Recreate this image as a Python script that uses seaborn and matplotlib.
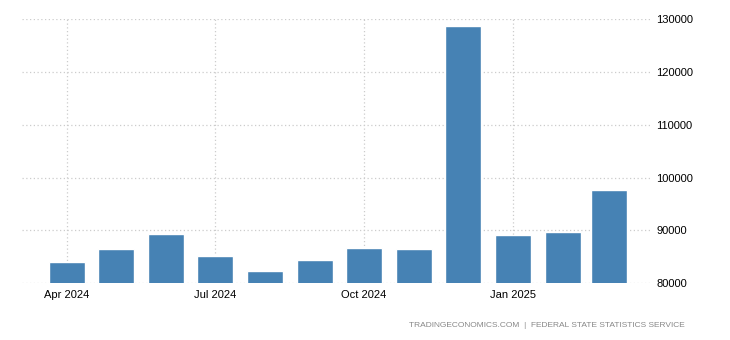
import matplotlib
matplotlib.use("Agg")
import matplotlib.pyplot as plt
import matplotlib.dates as mdates
import seaborn as sns
import pandas as pd
import numpy as np

months = ["2024-04-01", "2024-05-01", "2024-06-01", "2024-07-01", "2024-08-01", "2024-09-01",
          "2024-10-01", "2024-11-01", "2024-12-01", "2025-01-01", "2025-02-01", "2025-03-01"]
values = [84090, 86500, 89340, 85170, 82390, 84410,
          86690, 86500, 128730, 89150, 89700, 97670]
tick_dates = ["2024-04-01", "2024-07-01", "2024-10-01", "2025-01-01"]
tick_labels = ["Apr 2024", "Jul 2024", "Oct 2024", "Jan 2025"]
y_ticks = [80000, 90000, 100000, 110000, 120000, 130000]
source = "TRADINGECONOMICS.COM  |  FEDERAL STATE STATISTICS SERVICE"

sns.set_style("white")
plt.rcParams['font.family'] = ['Liberation Sans', 'DejaVu Sans']

xnum = mdates.date2num(pd.to_datetime(months))
df = pd.DataFrame({"x": xnum, "y": values})

fig = plt.figure(figsize=(7.3, 3.4), dpi=100)
ax = fig.add_axes([0.030, 0.1668, 0.863, 0.7765])

sns.barplot(data=df, x="x", y="y", native_scale=True, orient="x", width=0.793,
            color="#4682b4", saturation=1, ax=ax, zorder=3)

t0 = mdates.date2num(pd.Timestamp("2024-04-01"))
t1 = mdates.date2num(pd.Timestamp("2025-01-01"))
ax.set_xlim(t0 - 27.8, t1 + 85.5)
ax.set_ylim(80000, 130000)

ax.set_xticks(mdates.date2num(pd.to_datetime(tick_dates)))
ax.set_xticklabels(tick_labels)
ax.set_yticks(y_ticks)
ax.set_yticklabels([str(v) for v in y_ticks])
ax.yaxis.tick_right()
ax.tick_params(axis="both", length=0, labelsize=8, colors="#000000")
ax.tick_params(axis="y", pad=3)
ax.tick_params(axis="x", pad=5)

ax.grid(True, color="#cccccc", linestyle=(0, (1, 2)), linewidth=0.9, zorder=0)
ax.set_axisbelow(True)
for s in ax.spines.values():
    s.set_visible(False)
ax.set_xlabel("")
ax.set_ylabel("")

fig.text(0.938, 0.044, source, ha="right", va="center", fontsize=6.0, color="#888888")

fig.savefig("out.png", dpi=100)
